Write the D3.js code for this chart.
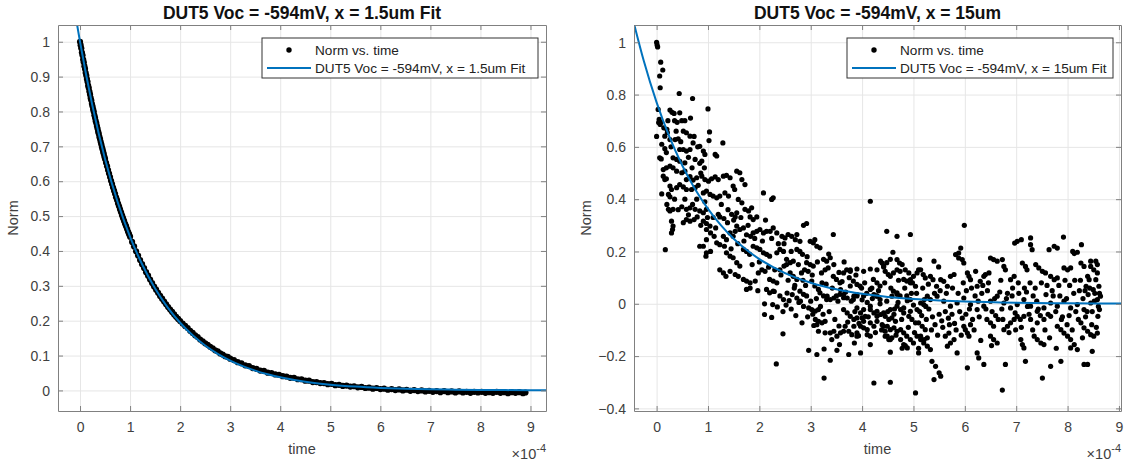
<!DOCTYPE html>
<html>
<head>
<meta charset="utf-8">
<style>
  body { margin: 0; background: #fff; }
  svg { font-family: "Liberation Sans", Arial, sans-serif; }
  .grid line { stroke: #e6e6e6; stroke-width: 1; }
  .grid path { display: none; }
  .ax path { stroke: #808080; }
  .ax line { stroke: #808080; }
  .ax text { fill: #404040; font-size: 14px; }
  .title { font-size: 17.5px; font-weight: bold; fill: #111; }
  .label { font-size: 14.5px; fill: #404040; }
  .legend text { font-size: 13.6px; fill: #222; }
</style>
<script src="https://cdn.jsdelivr.net/npm/d3@7"></script>
</head>
<body>
<svg id="fig" width="1128" height="463"></svg>
<script>
// time in units of 1e-4 s (axis shows x10^-4)
const xTicks = [0, 1, 2, 3, 4, 5, 6, 7, 8, 9];
const leftYTicks = [0, 0.1, 0.2, 0.3, 0.4, 0.5, 0.6, 0.7, 0.8, 0.9, 1];
const rightYTicks = [-0.4, -0.2, 0, 0.2, 0.4, 0.6, 0.8, 1];

const leftTitle = 'DUT5 Voc = -594mV, x = 1.5um Fit';
const rightTitle = 'DUT5 Voc = -594mV, x = 15um';
const leftFitName = 'DUT5 Voc = -594mV, x = 1.5um Fit';
const rightFitName = 'DUT5 Voc = -594mV, x = 15um Fit';

// x = 1.5um measured points [time, norm]
const leftPts = [
  [0,1.000],[0.0125,0.990],[0.025,0.981],[0.0375,0.969],[0.05,0.961],[0.0625,0.949],[0.075,0.941],[0.0875,0.930],
  [0.1,0.922],[0.1125,0.911],[0.125,0.903],[0.1375,0.893],[0.15,0.885],[0.1625,0.874],[0.175,0.867],[0.1875,0.857],
  [0.2,0.849],[0.2125,0.839],[0.225,0.832],[0.2375,0.822],[0.25,0.815],[0.2625,0.806],[0.275,0.799],[0.2875,0.789],
  [0.3,0.782],[0.3125,0.773],[0.325,0.767],[0.3375,0.758],[0.35,0.751],[0.3625,0.742],[0.375,0.736],[0.3875,0.727],
  [0.4,0.721],[0.4125,0.713],[0.425,0.706],[0.4375,0.698],[0.45,0.692],[0.4625,0.684],[0.475,0.678],[0.4875,0.670],
  [0.5,0.664],[0.52,0.653],[0.54,0.643],[0.56,0.632],[0.58,0.622],[0.60,0.612],[0.62,0.601],[0.64,0.592],
  [0.66,0.582],[0.68,0.573],[0.70,0.564],[0.72,0.554],[0.74,0.546],[0.76,0.536],[0.78,0.528],[0.80,0.519],
  [0.82,0.511],[0.84,0.502],[0.86,0.494],[0.88,0.486],[0.90,0.478],[0.92,0.471],[0.94,0.463],[0.96,0.455],
  [0.98,0.448],[1.00,0.441],[1.04,0.426],[1.08,0.413],[1.12,0.399],[1.16,0.387],[1.20,0.374],[1.24,0.362],
  [1.28,0.351],[1.32,0.339],[1.36,0.329],[1.40,0.318],[1.44,0.308],[1.48,0.298],[1.52,0.289],[1.56,0.280],
  [1.60,0.271],[1.64,0.263],[1.68,0.255],[1.72,0.247],[1.76,0.239],[1.80,0.232],[1.84,0.225],[1.88,0.218],
  [1.92,0.211],[1.96,0.205],[2.00,0.199],[2.05,0.192],[2.10,0.185],[2.15,0.179],[2.20,0.171],[2.25,0.165],
  [2.30,0.158],[2.35,0.153],[2.40,0.146],[2.45,0.141],[2.50,0.135],[2.55,0.131],[2.60,0.125],[2.65,0.121],
  [2.70,0.115],[2.75,0.112],[2.80,0.106],[2.85,0.103],[2.90,0.098],[2.95,0.096],[3.00,0.091],[3.075,0.087],
  [3.15,0.081],[3.225,0.078],[3.30,0.072],[3.375,0.070],[3.45,0.064],[3.525,0.062],[3.60,0.057],[3.675,0.056],
  [3.75,0.051],[3.825,0.050],[3.90,0.046],[3.975,0.045],[4.05,0.041],[4.125,0.040],[4.20,0.036],[4.275,0.036],
  [4.35,0.032],[4.425,0.032],[4.50,0.028],[4.575,0.028],[4.65,0.024],[4.725,0.024],[4.80,0.021],[4.875,0.021],
  [4.95,0.018],[5.025,0.019],[5.10,0.015],[5.175,0.016],[5.25,0.013],[5.325,0.014],[5.40,0.011],[5.475,0.012],
  [5.55,0.009],[5.625,0.010],[5.70,0.007],[5.775,0.008],[5.85,0.005],[5.925,0.007],[6.00,0.004],[6.075,0.005],
  [6.15,0.002],[6.225,0.004],[6.30,0.001],[6.375,0.003],[6.45,0.000],[6.525,0.002],[6.60,-0.001],[6.675,0.001],
  [6.75,-0.002],[6.825,0.000],[6.90,-0.003],[6.975,-0.001],[7.05,-0.004],[7.125,-0.002],[7.20,-0.005],[7.275,-0.002],
  [7.35,-0.005],[7.425,-0.003],[7.50,-0.006],[7.575,-0.003],[7.65,-0.006],[7.725,-0.004],[7.80,-0.007],[7.875,-0.004],
  [7.95,-0.006],[8.025,-0.004],[8.10,-0.007],[8.175,-0.005],[8.25,-0.007],[8.325,-0.004],[8.40,-0.007],[8.475,-0.005],
  [8.55,-0.008],[8.625,-0.005],[8.70,-0.007],[8.775,-0.005],[8.85,-0.008],[8.90,-0.006]
];

// x = 1.5um fitted curve [time, norm]
const leftFit = [
  [-0.06,1.050],[0,1],[0.25,0.815],[0.5,0.664],[0.75,0.541],[1,0.4406],[1.25,0.359],[1.5,0.2924],[1.75,0.2383],
  [2,0.1941],[2.25,0.1581],[2.5,0.1288],[2.75,0.105],[3,0.0855],[3.25,0.0697],[3.5,0.0568],[3.75,0.0462],[4,0.0377],
  [4.5,0.025],[5,0.0166],[5.5,0.011],[6,0.0073],[6.5,0.0049],[7,0.0032],[7.5,0.0021],[8,0.0014],[8.5,0.0009],
  [9,0.0006],[9.31,0.0005]
];

// x = 15um measured points [time, norm]
const rightPts = [
  [0.00,1.000],[0.01,0.990],[0.02,0.982],[0.08,0.924],[0.12,0.894],[0.06,0.871],[0.07,0.826],[0.44,0.804],[0.70,0.785],
  [0.03,0.743],[0.26,0.741],[1.00,0.745],[0.30,0.732],[0.34,0.728],[0.45,0.730],[0.66,0.710],[0.05,0.705],[0.04,0.693],
  [0.07,0.686],[0.08,0.694],[0.14,0.673],[0.20,0.667],[0.21,0.655],[0.16,0.641],[0.00,0.640],[0.35,0.700],[0.40,0.694],
  [0.49,0.700],[1.03,0.657],[1.02,0.624],[1.29,0.615],[0.73,0.640],[0.26,0.628],[0.36,0.628],[0.42,0.631],[0.52,0.660],
  [0.58,0.654],[0.65,0.641],[0.71,0.615],[0.84,0.602],[0.45,0.590],[0.52,0.590],[0.58,0.584],[0.65,0.590],[0.06,0.558],
  [0.09,0.554],[0.16,0.593],[0.19,0.578],[0.32,0.558],[0.39,0.552],[0.45,0.545],[0.55,0.539],[0.75,0.552],[0.84,0.537],
  [0.88,0.546],[0.91,0.584],[0.94,0.571],[1.14,0.571],[1.17,0.565],
  [0.13,0.513],[0.19,0.520],[0.26,0.526],[0.32,0.520],[0.13,0.488],[0.16,0.475],[0.19,0.478],[0.39,0.507],[0.49,0.501],
  [0.55,0.507],[0.58,0.475],[0.65,0.486],[0.71,0.473],[0.78,0.482],[0.88,0.488],[0.94,0.475],[1.01,0.469],[1.07,0.478],
  [1.14,0.485],[1.20,0.475],[1.30,0.488],[1.36,0.491],[1.43,0.482],[1.56,0.507],[1.62,0.501],[1.66,0.475],[1.72,0.456],
  [0.26,0.450],[0.29,0.437],[0.39,0.444],[0.45,0.456],[0.52,0.447],[0.58,0.437],[0.68,0.437],[0.75,0.444],[0.81,0.453],
  [0.91,0.424],[0.97,0.431],[1.04,0.418],[1.10,0.412],[1.17,0.405],[1.23,0.412],[0.23,0.418],[0.26,0.409],[1.33,0.424],
  [1.40,0.412],[1.49,0.450],[1.52,0.437],
  [0.23,0.361],[0.26,0.355],[0.32,0.361],[0.49,0.371],[0.58,0.361],[0.65,0.367],[0.75,0.361],[0.84,0.355],[0.91,0.348],
  [0.97,0.361],[0.29,0.316],[0.32,0.297],[0.52,0.310],[0.58,0.322],[0.65,0.316],[0.73,0.322],[0.79,0.332],[0.91,0.316],
  [0.97,0.307],[1.04,0.297],[0.29,0.271],[0.31,0.284],[0.97,0.284],[1.05,0.271],[1.12,0.258],[1.20,0.342],[1.23,0.332],
  [1.31,0.326],[1.38,0.310],[1.46,0.342],[1.53,0.332],[1.56,0.348],[1.72,0.361],[1.79,0.355],[1.85,0.367],[1.82,0.332],
  [1.88,0.322],[1.95,0.332],[2.08,0.424],[2.24,0.399],[2.27,0.405],[1.59,0.399],[1.66,0.386],[0.91,0.220],[0.97,0.195],
  [0.96,0.182],[1.17,0.233],[1.23,0.226],[1.30,0.258],[1.36,0.245],[1.43,0.271],[1.49,0.258],[1.53,0.277],[1.56,0.297],
  [1.62,0.284],[1.69,0.290],[1.75,0.264],[1.83,0.258],[1.88,0.271],[1.95,0.277],[2.01,0.284],[2.08,0.271],[2.14,0.277],
  [2.21,0.277],[2.27,0.290],[2.34,0.271],[2.44,0.258],[2.50,0.252],[2.56,0.265],[2.63,0.258],[2.70,0.245],[2.73,0.265],
  [2.79,0.239],[2.86,0.300],[2.92,0.307],[2.99,0.239],[3.05,0.233],[3.08,0.245],[3.44,0.265],[0.97,0.245],[0.84,0.220],
  [0.17,0.207],
  [1.36,0.195],[1.43,0.182],[1.49,0.176],[1.56,0.157],[1.62,0.144],[1.69,0.208],[1.75,0.200],[1.81,0.189],[1.88,0.220],
  [1.95,0.214],[2.01,0.208],[2.08,0.195],[2.14,0.189],[2.20,0.182],[2.34,0.195],[2.40,0.208],[2.47,0.200],[2.53,0.170],
  [2.60,0.157],[2.66,0.163],[2.73,0.208],[2.79,0.200],[2.84,0.189],[2.92,0.157],[2.99,0.150],[3.05,0.144],[3.12,0.220],
  [3.18,0.214],[3.25,0.170],[3.31,0.163],[3.38,0.176],[1.23,0.130],[1.30,0.118],[1.35,0.105],[1.43,0.124],[1.53,0.112],
  [1.59,0.105],[1.69,0.093],[1.75,0.087],[1.82,0.080],[1.92,0.087],[1.98,0.118],[2.05,0.130],[2.11,0.124],[2.20,0.093],
  [2.27,0.087],[2.34,0.080],[2.40,0.130],[2.48,0.144],[2.53,0.150],[2.60,0.118],[2.66,0.105],[2.73,0.093],[2.82,0.118],
  [2.88,0.130],[2.95,0.124],[3.02,0.087],[3.08,0.068],[3.15,0.055],[3.21,0.118],[3.28,0.130],[3.34,0.137],[3.44,0.105],
  [3.50,0.093],[3.57,0.080],[3.64,0.118],[3.70,0.130],[3.77,0.124],[3.83,0.087],[3.90,0.074],[3.96,0.068],[4.03,0.030],
  [4.09,0.040],[4.16,0.055],[4.16,0.392],[4.22,0.093],[4.29,0.080],[4.35,0.068],[4.48,0.277],[4.68,0.258],[4.94,0.265],
  [4.42,0.144],[4.48,0.157],[4.55,0.170],[4.61,0.118],[4.68,0.130],[4.74,0.124],[4.81,0.093],[4.87,0.087],[4.94,0.080],
  [5.00,0.105],[5.07,0.118],[5.10,0.130],[2.14,0.055],[2.20,0.042],[2.27,0.048],[2.40,0.030],[2.47,0.016],[1.75,0.055],
  [1.82,0.060],[2.79,0.048],[2.86,0.036],[2.92,0.030],[3.18,0.042],[3.25,0.030],[3.31,0.016],[3.50,0.030],[3.57,0.036],
  [3.64,0.023],[3.83,0.016],[3.90,0.030],[3.77,0.068],[4.29,0.030],[4.35,0.016],[4.61,0.048],[4.68,0.036],[4.74,0.030],
  [4.87,0.030],[4.94,0.016],
  [1.97,0.050],[2.29,0.047],[2.54,0.041],[2.64,0.035],[2.73,0.022],[2.80,0.010],[2.10,0.000],[2.10,-0.041],[2.24,-0.052],
  [2.26,-0.003],[2.35,-0.012],[2.46,-0.030],[2.46,-0.115],[2.33,-0.230],[2.83,-0.073],[2.96,-0.016],[3.02,-0.022],
  [3.09,-0.028],[3.15,-0.022],[2.96,-0.178],[3.12,-0.194],[3.26,-0.173],[3.38,-0.216],[3.26,-0.284],[3.09,-0.060],
  [3.15,-0.067],[3.22,-0.073],[3.28,-0.067],[3.06,-0.083],[3.12,-0.080],[3.15,-0.105],[3.28,-0.111],[3.38,-0.111],
  [3.45,-0.105],[3.41,-0.137],[3.51,-0.124],[3.32,0.029],[3.38,0.016],[3.45,0.022],[3.58,0.054],[3.64,0.035],[3.71,0.022],
  [3.64,-0.022],[3.71,-0.035],[3.77,-0.048],[3.84,-0.060],[3.90,-0.054],[3.67,-0.086],[3.74,-0.105],[3.80,-0.118],
  [3.58,-0.111],[3.64,-0.105],[3.51,-0.178],[3.74,-0.194],[3.56,-0.156],[3.85,-0.150],[3.97,-0.035],[4.00,-0.054],
  [4.03,-0.067],[4.06,-0.048],[3.97,-0.086],[4.03,-0.092],[4.10,-0.099],[3.90,-0.111],[3.93,-0.122],[4.16,-0.022],
  [4.23,-0.035],[4.29,-0.048],[4.36,-0.041],[4.16,-0.073],[4.23,-0.086],[4.29,-0.067],[4.39,-0.080],[4.10,-0.118],
  [4.16,-0.124],[4.23,-0.303],[4.55,-0.300],[4.55,-0.185],[4.45,-0.048],[4.52,-0.060],[4.58,-0.054],[4.65,-0.067],
  [4.49,-0.086],[4.55,-0.099],[4.62,-0.092],[4.68,-0.105],[4.45,-0.124],[4.52,-0.137],[4.58,-0.130],[4.75,-0.099],
  [4.81,-0.111],[4.87,-0.124],[4.94,-0.137],[5.00,-0.150],[4.78,-0.170],[4.84,-0.160],[5.04,-0.341],[4.75,-0.022],
  [4.81,-0.035],[4.91,-0.048],[4.97,-0.060],[5.04,-0.073],[5.10,-0.170],[5.14,-0.124],[5.21,-0.137],[5.27,-0.130],
  [5.14,0.003],[5.21,0.016],[5.27,0.029],[4.58,0.029],[4.68,0.042],[4.23,0.035],[4.29,0.029],[3.84,0.029],[3.90,0.035],
  [5.10,-0.073],[5.17,-0.086],[5.23,-0.099],
  [5.99,0.300],[5.92,0.213],[5.88,0.194],[5.12,0.169],[5.40,0.163],[5.49,0.141],[4.60,0.197],[4.68,0.169],[4.73,0.156],
  [4.39,0.156],[4.42,0.141],[3.77,0.130],[3.90,0.133],[4.03,0.124],[4.16,0.133],[4.29,0.130],[4.36,0.163],[4.45,0.124],
  [4.51,0.112],[4.55,0.105],[4.78,0.150],[4.84,0.130],[4.91,0.118],[4.94,0.092],[4.98,0.080],[5.04,0.067],[5.14,0.130],
  [5.19,0.112],[5.23,0.099],[5.33,0.105],[5.38,0.092],[5.45,0.067],[5.53,0.092],[5.59,0.086],[5.66,0.067],[5.72,0.105],
  [5.79,0.112],[5.82,0.188],[5.88,0.175],[5.95,0.169],[5.98,0.156],[6.05,0.118],[6.08,0.105],[6.11,0.092],[6.21,0.124],
  [6.24,0.067],[6.30,0.086],[6.37,0.105],[6.40,0.112],[6.47,0.118],[6.50,0.175],[6.56,0.169],[6.63,0.163],[6.73,0.169],
  [6.76,0.143],[6.79,0.130],[6.89,0.092],[6.96,0.105],[6.97,0.232],[7.02,0.239],[7.10,0.245],[7.28,0.252],[7.28,0.226],
  [7.31,0.207],[7.12,0.156],[7.18,0.143],[7.21,0.130],[7.38,0.150],[7.44,0.137],[7.51,0.124],[7.57,0.118],[7.67,0.105],
  [7.74,0.092],[7.80,0.099],[7.64,0.207],[7.74,0.220],[7.80,0.213],[7.92,0.255],[8.10,0.200],[8.13,0.192],[8.19,0.197],
  [8.27,0.226],[7.93,0.137],[8.00,0.130],[8.06,0.137],[8.26,0.156],[8.32,0.143],[8.45,0.163],[8.55,0.163],[8.58,0.150],
  [8.45,0.143],[8.51,0.130],[8.58,0.118],[8.61,0.067],[8.64,0.029],[8.62,-0.022],[8.59,-0.048],[8.55,0.092],[8.50,0.054],
  [8.39,0.105],[8.42,0.092],[8.36,0.067],
  [3.90,-0.016],[4.03,-0.022],[4.16,-0.009],[4.29,-0.029],[4.42,-0.035],[4.55,-0.022],[4.68,-0.009],[4.81,-0.016],
  [4.94,-0.029],[5.07,-0.022],[5.20,-0.003],[5.33,0.016],[5.46,0.029],[5.59,0.010],[5.72,-0.009],[5.85,0.003],[5.98,0.022],
  [6.11,-0.003],[6.24,-0.022],[6.37,-0.009],[6.50,0.010],[6.63,0.029],[6.76,0.003],[6.89,-0.016],[7.02,-0.003],[7.15,0.016],
  [7.28,-0.009],[7.41,-0.029],[7.54,-0.016],[7.67,0.003],[7.80,-0.009],[7.93,0.010],[8.06,-0.016],[8.19,-0.003],
  [8.32,-0.022],[8.45,0.003],[8.58,0.016],
  [4.00,0.015],[4.10,0.005],[4.20,0.020],[4.35,0.000],[4.48,0.010],[4.62,-0.040],[4.70,0.005],[4.88,0.012],[5.00,-0.005],
  [5.16,-0.045],[5.25,-0.060],[5.30,-0.020],[5.37,-0.050],[5.42,-0.080],[5.50,-0.040],[5.55,-0.065],[5.62,-0.030],
  [5.68,-0.055],[5.75,-0.040],[5.80,-0.075],[5.90,-0.030],[5.95,-0.055],[6.02,-0.040],[6.15,-0.060],[6.20,0.030],
  [6.28,-0.050],[6.33,0.040],[6.44,0.050],[6.53,-0.030],[6.60,-0.045],[6.68,0.045],[6.72,-0.020],[6.83,0.040],[6.92,0.030],
  [6.98,-0.035],[7.05,0.040],[7.08,-0.060],[7.20,0.045],[7.25,-0.040],[7.33,0.030],[7.40,0.010],[7.47,-0.045],[7.58,0.035],
  [7.62,-0.040],[7.70,0.050],[7.77,-0.030],[7.85,0.030],[7.90,-0.050],[7.98,0.020],[8.03,-0.045],[8.12,0.040],[8.16,-0.030],
  [8.23,0.050],[8.30,0.020],[8.35,-0.050],[8.40,0.035],[8.48,-0.030],[8.52,0.010],[8.60,-0.010],
  [3.84,-0.086],[3.90,-0.124],[3.97,-0.188],[4.16,-0.156],[4.42,-0.086],[4.45,-0.105],[4.49,-0.124],[4.55,-0.137],
  [4.75,-0.137],[4.81,-0.156],[4.88,-0.169],[5.07,-0.124],[5.14,-0.137],[5.20,-0.150],[5.27,-0.162],[5.33,-0.175],
  [5.10,-0.188],[5.36,-0.220],[5.43,-0.239],[5.50,-0.264],[5.53,-0.277],[5.40,-0.290],[5.66,-0.162],[5.72,-0.150],
  [5.79,-0.137],[5.85,-0.188],[5.62,-0.124],[5.69,-0.112],[5.98,-0.086],[6.01,-0.099],[6.05,-0.112],[6.08,-0.124],
  [6.11,-0.080],[6.05,-0.245],[6.24,-0.188],[6.27,-0.207],[6.37,-0.232],[6.50,-0.124],[6.56,-0.137],[6.63,-0.150],
  [6.73,-0.330],[6.79,-0.232],[6.43,-0.060],[6.50,-0.073],[6.56,-0.086],[6.76,-0.099],[6.83,-0.086],[6.89,-0.073],
  [6.96,-0.060],[7.02,-0.048],[7.09,-0.137],[7.12,-0.156],[7.15,-0.169],[7.18,-0.220],[7.35,-0.124],[7.41,-0.137],
  [7.48,-0.150],[7.54,-0.156],[7.51,-0.284],[7.67,-0.239],[7.87,-0.220],[7.80,-0.086],[7.87,-0.099],[7.93,-0.112],
  [8.00,-0.124],[8.06,-0.137],[8.06,-0.169],[8.13,-0.156],[8.19,-0.175],[8.32,-0.232],[8.39,-0.232],[8.26,-0.073],
  [8.32,-0.092],[8.39,-0.105],[8.45,-0.118],[8.51,-0.124],[8.58,-0.112],[8.48,-0.182],[7.15,-0.048],[7.28,-0.060],
  [7.41,-0.073],[7.54,-0.060],[7.67,-0.048],
  [2.52,-0.005],[2.58,0.012],[2.62,-0.020],[2.68,0.060],[2.71,-0.045],[2.77,0.005],[2.86,-0.010],[2.90,0.070],
  [2.94,-0.050],[3.00,0.010],[3.04,-0.040],[3.11,0.020],[3.19,-0.010],[3.24,-0.040],[3.30,0.075],[3.36,-0.030],
  [3.42,0.060],[3.47,-0.060],[3.53,0.010],[3.55,-0.085],[3.61,0.085],[3.68,0.045],[3.72,-0.070],[3.79,0.010],
  [3.86,-0.030],[3.94,-0.075],[3.99,0.060],
  [4.05,0.080],[4.12,-0.050],[4.19,0.060],[4.26,-0.110],[4.32,0.050],[4.38,-0.100],[4.44,0.080],[4.50,-0.030],
  [4.56,0.060],[4.63,-0.020],[4.66,-0.120],[4.71,0.090],[4.77,-0.060],[4.83,0.060],[4.90,-0.090],[4.96,0.040],[5.02,-0.110],
  [5.06,0.040],[5.12,-0.030],[5.18,0.060],[5.24,-0.010],[5.29,0.075],[5.35,-0.100],[5.41,0.040],[5.47,-0.120],
  [5.52,0.050],[5.57,-0.090],[5.64,0.040],[5.70,-0.080],[5.76,0.060],[5.83,-0.100],[5.87,0.040],[5.93,-0.120],[5.97,0.080],
  [6.03,0.050],[6.09,-0.020],[6.13,0.060],[6.18,-0.100],[6.26,0.010],[6.31,-0.140],[6.35,0.070],[6.41,-0.020],
  [6.46,0.080],[6.52,-0.160],[6.58,0.020],[6.65,-0.060],[6.70,0.090],[6.74,-0.060],[6.81,0.020],[6.86,-0.110],
  [6.93,0.060],[6.99,-0.100],
  [7.04,0.080],[7.10,-0.090],[7.16,0.060],[7.22,-0.010],[7.27,0.080],[7.32,-0.100],[7.37,0.060],[7.43,-0.020],
  [7.49,0.080],[7.56,-0.100],[7.60,0.070],[7.65,-0.130],[7.72,0.030],[7.78,-0.170],[7.83,0.070],[7.88,-0.060],
  [7.95,0.090],[7.99,-0.080],
  [8.04,0.070],[8.09,-0.100],[8.14,0.090],[8.21,-0.060],[8.25,0.090],[8.29,-0.130],[8.34,0.050],[8.38,-0.030],
  [8.43,0.060],[8.47,-0.080],[8.53,0.040],[8.56,-0.090],[8.62,0.040],
  [1.05,0.200],[1.10,0.330],[1.15,0.290],[1.26,0.380],[1.32,0.220],[1.39,0.360],[1.45,0.210],[1.50,0.320],[1.58,0.230],
  [1.64,0.330],[1.70,0.240],[1.78,0.300],[1.86,0.150],[1.91,0.250],[2.00,0.160],[2.06,0.240],[2.12,0.320],[2.18,0.140],
  [2.24,0.250],[2.30,0.130],[2.37,0.230],[2.42,0.110],[2.48,0.230],[2.56,0.090],[2.62,0.200],[2.69,0.070],[2.76,0.150],
  [2.85,0.090],[2.93,0.180],[3.03,0.110],[3.13,0.160],[3.22,0.080],[3.35,0.190],[3.45,0.150],[3.55,0.120],[3.65,0.160],
  [3.75,0.100],[3.88,0.110],
  [0.10,0.610],[0.22,0.700],[0.28,0.600],[0.38,0.660],[0.47,0.620],[0.55,0.700],[0.62,0.560],[0.69,0.520],[0.80,0.600],
  [0.86,0.500],[0.93,0.520],[0.10,0.420],[0.20,0.380],[0.35,0.400],[0.42,0.360],[0.55,0.400],[0.62,0.340],[0.70,0.380],
  [0.78,0.400],[0.86,0.300],[0.94,0.390],[0.99,0.330]
];

// x = 15um fitted curve [time, norm]
const rightFit = [
  [-0.44,1.071],[-0.25,0.929],[0,0.770],[0.25,0.638],[0.5,0.529],[0.75,0.438],[1,0.363],[1.25,0.301],[1.5,0.249],
  [1.75,0.2065],[2,0.171],[2.5,0.1175],[3,0.0807],[3.5,0.0554],[4,0.038],[4.5,0.0261],[5,0.0179],[5.5,0.0123],
  [6,0.0085],[7,0.004],[8,0.0019],[9.04,0.0009]
];

const svg = d3.select('#fig');
const FIT_BLUE = '#0072BD';

function drawPanel(opt) {
  const {x0, x1, y0, y1} = opt.box;
  const w = x1 - x0, h = y1 - y0;
  const x = d3.scaleLinear().domain(opt.xDomain).range([x0, x1]);
  const y = d3.scaleLinear().domain(opt.yDomain).range([y1, y0]);
  const g = svg.append('g');

  g.append('defs').append('clipPath').attr('id', opt.id + 'clip')
    .append('rect').attr('x', x0).attr('y', y0).attr('width', w).attr('height', h);

  // grid
  g.append('g').attr('class', 'grid').attr('transform', `translate(0,${y1})`)
    .call(d3.axisBottom(x).tickValues(xTicks).tickSize(-h).tickFormat(''));
  g.append('g').attr('class', 'grid').attr('transform', `translate(${x0},0)`)
    .call(d3.axisLeft(y).tickValues(opt.yTicks).tickSize(-w).tickFormat(''));

  const plot = g.append('g').attr('clip-path', `url(#${opt.id}clip)`);
  plot.selectAll('circle').data(opt.pts).join('circle')
    .attr('cx', d => x(d[0])).attr('cy', d => y(d[1]))
    .attr('r', opt.r).attr('fill', '#000');

  const line = d3.line().x(d => x(d[0])).y(d => y(d[1])).curve(d3.curveMonotoneX);
  plot.append('path').datum(opt.fit).attr('d', line)
    .attr('fill', 'none').attr('stroke', FIT_BLUE).attr('stroke-width', 2);

  // axes with inward ticks, mirrored on top/right
  const fmt = d => d3.format('')(+d.toFixed(2));
  const bottom = g.append('g').attr('class', 'ax').attr('transform', `translate(0,${y1})`)
    .call(d3.axisBottom(x).tickValues(xTicks).tickSizeInner(-5).tickSizeOuter(0).tickPadding(11).tickFormat(fmt));
  const left = g.append('g').attr('class', 'ax').attr('transform', `translate(${x0},0)`)
    .call(d3.axisLeft(y).tickValues(opt.yTicks).tickSizeInner(-5).tickSizeOuter(0).tickPadding(8).tickFormat(fmt));
  g.append('g').attr('class', 'ax').attr('transform', `translate(0,${y0})`)
    .call(d3.axisTop(x).tickValues(xTicks).tickSizeInner(-5).tickSizeOuter(0).tickFormat(''));
  g.append('g').attr('class', 'ax').attr('transform', `translate(${x1},0)`)
    .call(d3.axisRight(y).tickValues(opt.yTicks).tickSizeInner(-5).tickSizeOuter(0).tickFormat(''));
  bottom.selectAll('.tick text').attr('dy', '0.71em');
  left.selectAll('.tick text').attr('dy', '0.34em');

  // title and labels
  g.append('text').attr('class', 'title').attr('x', (x0 + x1) / 2).attr('y', 18.5)
    .attr('text-anchor', 'middle').text(opt.title);
  g.append('text').attr('class', 'label').attr('x', (x0 + x1) / 2).attr('y', 454)
    .attr('text-anchor', 'middle').text('time');
  g.append('text').attr('class', 'label')
    .attr('transform', `translate(${x0 - opt.yLabelGap},${(y0 + y1) / 2}) rotate(-90)`)
    .attr('text-anchor', 'middle').text('Norm');
  const ex = g.append('text').attr('class', 'label').attr('x', x1).attr('y', 459).attr('text-anchor', 'end');
  ex.append('tspan').text('\u00d710');
  ex.append('tspan').attr('dy', -7).style('font-size', '11px').text('-4');

  // legend
  const lg = g.append('g').attr('class', 'legend');
  const lx1 = x1 - 8, lx0 = lx1 - opt.legendW, ly0 = 38, ly1 = 78;
  lg.append('rect').attr('x', lx0).attr('y', ly0).attr('width', lx1 - lx0).attr('height', ly1 - ly0)
    .attr('fill', '#fff').attr('stroke', '#333').attr('stroke-width', 1);
  lg.append('circle').attr('cx', lx0 + 27).attr('cy', 50).attr('r', 2.7).attr('fill', '#000');
  lg.append('line').attr('x1', lx0 + 5).attr('x2', lx0 + 49).attr('y1', 68).attr('y2', 68)
    .attr('stroke', FIT_BLUE).attr('stroke-width', 2);
  lg.append('text').attr('x', lx0 + 53).attr('y', 55).text('Norm vs. time');
  lg.append('text').attr('x', lx0 + 53).attr('y', 73).text(opt.fitName);
}

drawPanel({
  id: 'left', box: {x0: 58, x1: 546, y0: 25, y1: 411},
  xDomain: [-0.44, 9.31], yDomain: [-0.059, 1.048], yTicks: leftYTicks,
  pts: leftPts, fit: leftFit, r: 3.1, title: leftTitle, fitName: leftFitName,
  yLabelGap: 40, legendW: 276
});
drawPanel({
  id: 'right', box: {x0: 634, x1: 1121, y0: 25, y1: 411},
  xDomain: [-0.44, 9.04], yDomain: [-0.41, 1.066], yTicks: rightYTicks,
  pts: rightPts, fit: rightFit, r: 2.6, title: rightTitle, fitName: rightFitName,
  yLabelGap: 43, legendW: 266
});
</script>
</body>
</html>
